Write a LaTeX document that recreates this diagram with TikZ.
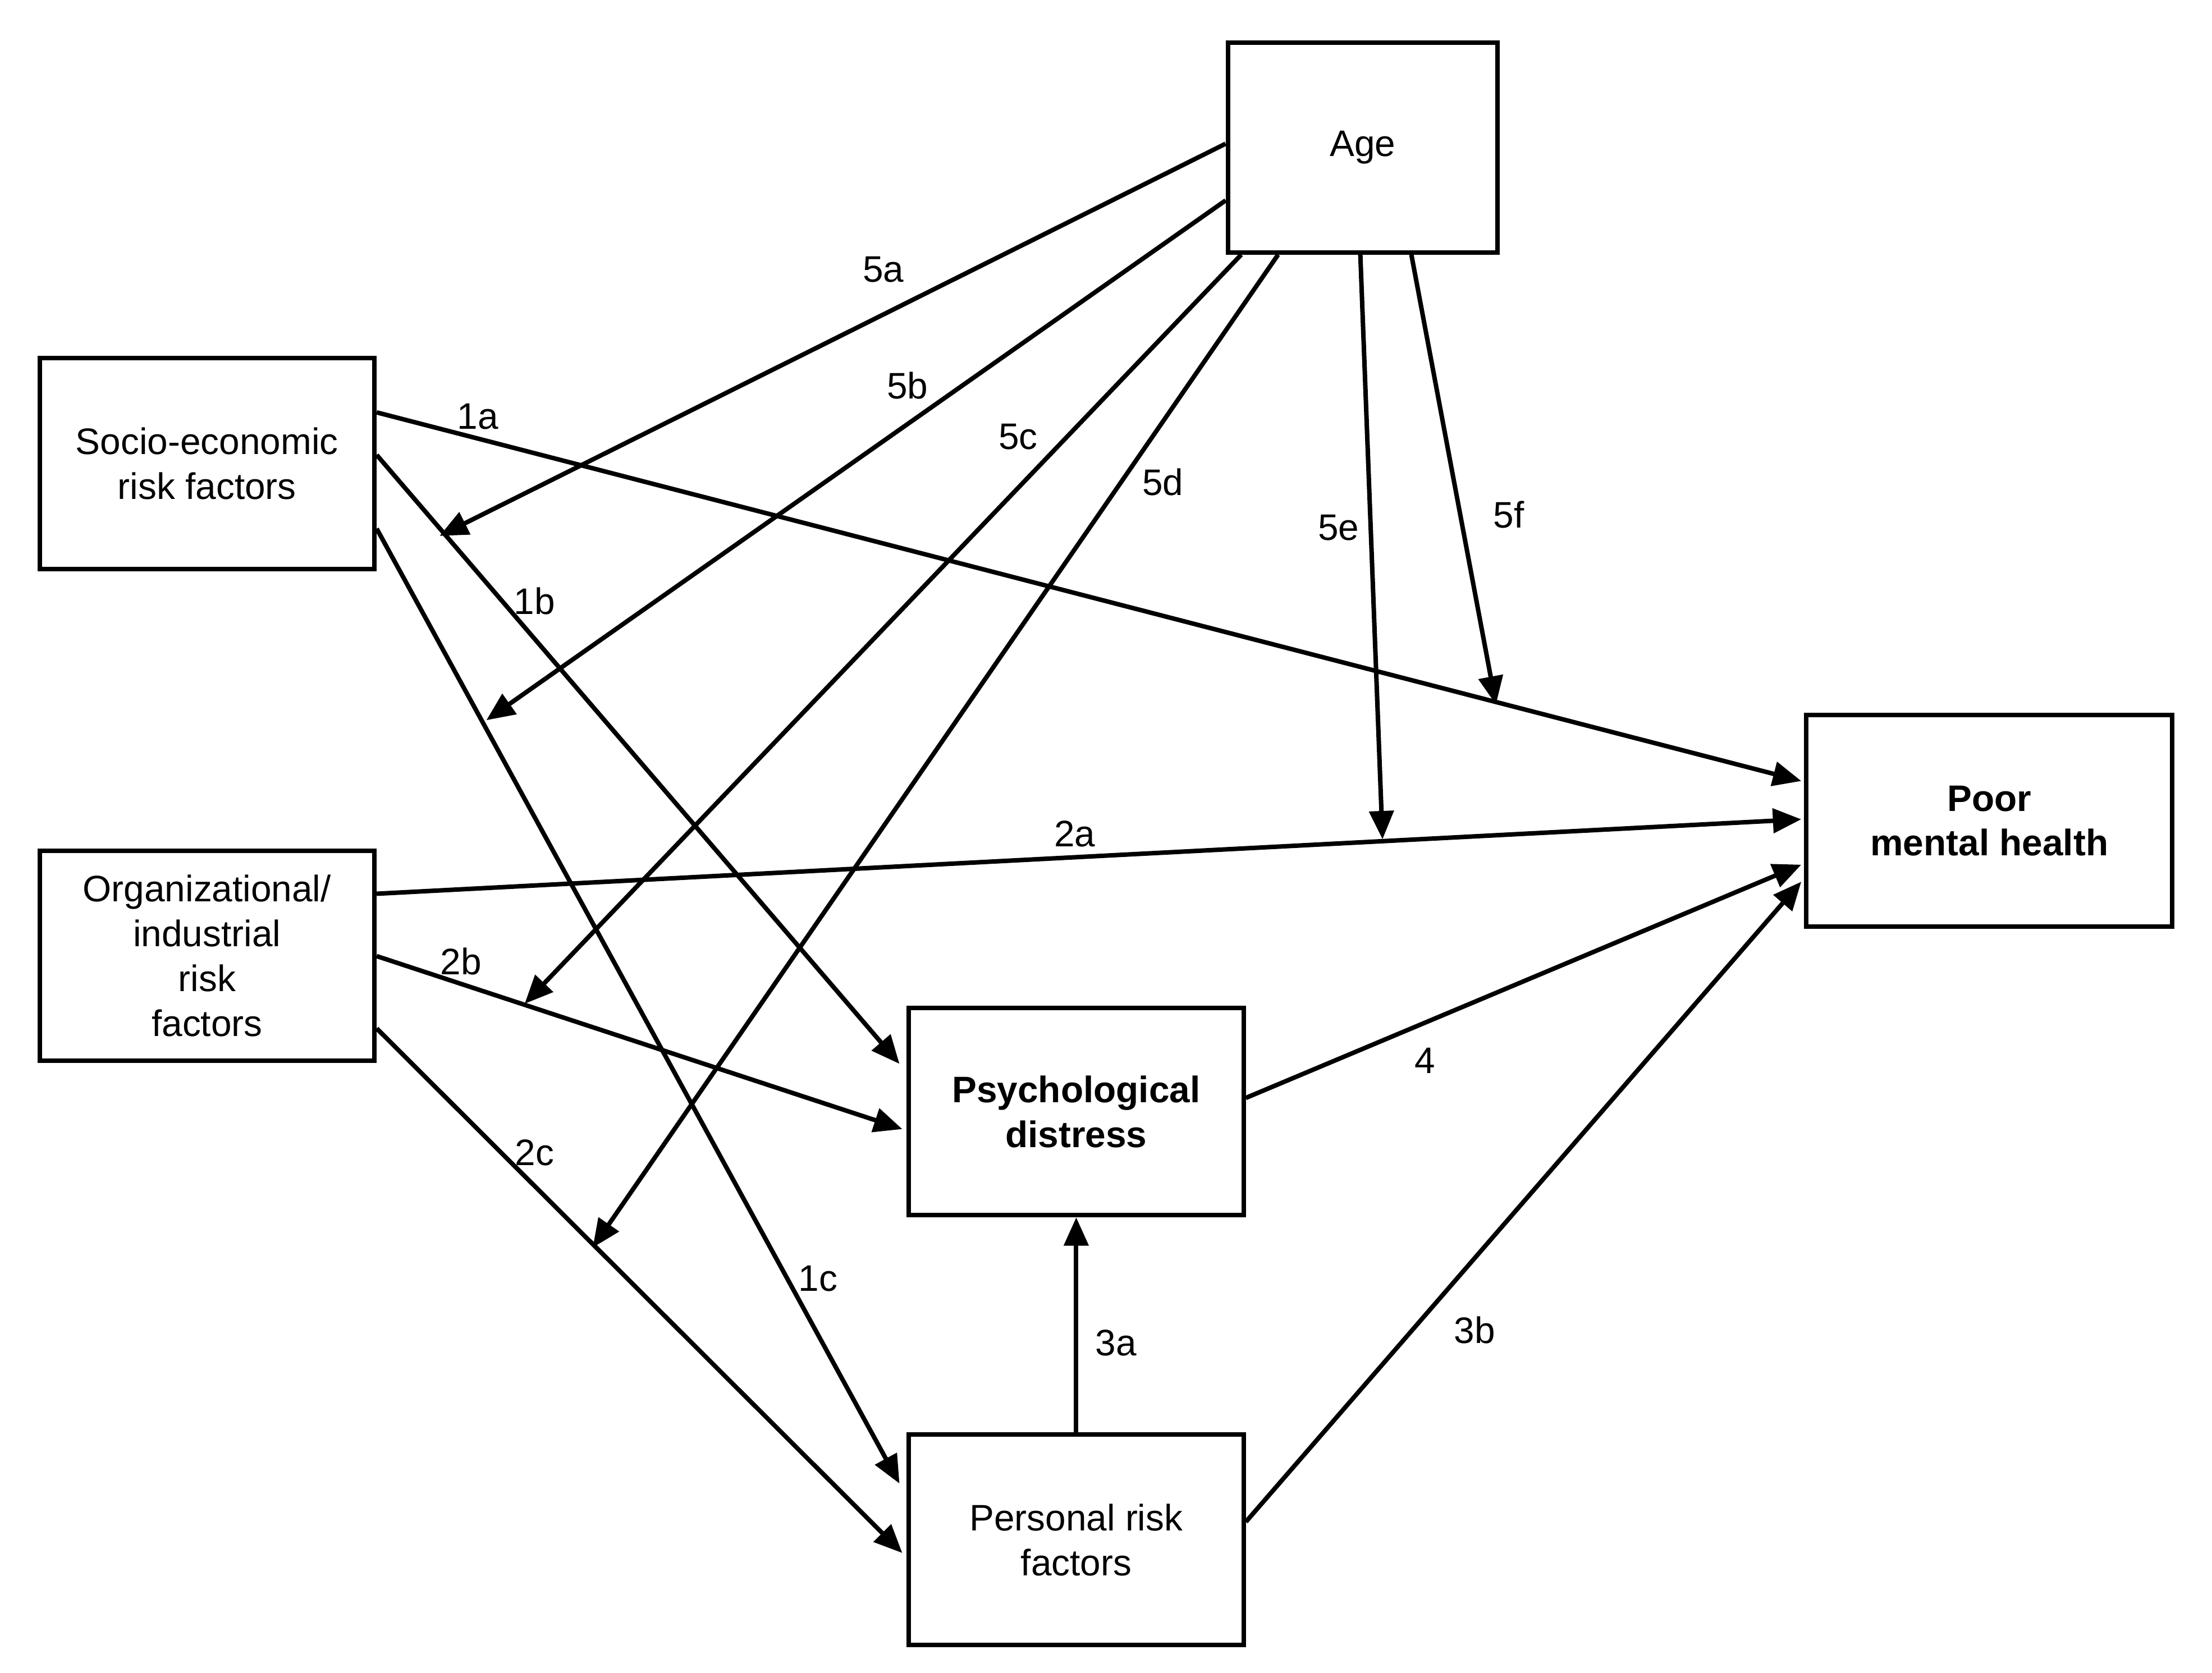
\documentclass[tikz,border=0pt]{standalone}
\usepackage{fontspec}
\setmainfont{Liberation Sans}
\usetikzlibrary{arrows.meta,calc}
\begin{document}
\begin{tikzpicture}[x=0.01cm,y=-0.01cm,
  box/.style={draw,line width=0.9pt,inner sep=0,align=center,font=\fontsize{7.4}{9}\selectfont},
  arr/.style={line width=0.9pt,-{Triangle[length=2mm,width=1.7mm]}},
  lab/.style={font=\fontsize{7.4}{9}\selectfont}]
\useasboundingbox (0,0) rectangle (1560,1180);
\node[box,minimum width=1.90cm,minimum height=1.48cm] (age) at (961,104) {Age};
\node[box,minimum width=2.36cm,minimum height=1.49cm] (se) at (146,327) {Socio-economic\\risk factors};
\node[box,minimum width=2.36cm,minimum height=1.48cm] (org) at (146,674) {Organizational/\\industrial\\risk\\factors};
\node[box,minimum width=2.36cm,minimum height=1.46cm,font=\fontsize{7.4}{9}\selectfont\bfseries] (psy) at (759,784) {Psychological\\distress};
\node[box,minimum width=2.36cm,minimum height=1.48cm] (per) at (759,1086) {Personal risk\\factors};
\node[box,minimum width=2.58cm,minimum height=1.49cm,font=\fontsize{7.4}{9}\selectfont\bfseries] (poor) at (1403,579) {Poor\\mental health};
\coordinate (e5a) at (310,378);
\coordinate (e5b) at (343,508);
\coordinate (e5c) at (370,708);
\coordinate (e5d) at (418,880);
\coordinate (e5e) at (975,592);
\coordinate (e5f) at (1055,497);
\draw[arr] ($(age.north west)+(0,73)$) -- (e5a);
\draw[arr] ($(age.north west)+(0,113)$) -- (e5b);
\draw[arr] ($(age.south west)+(11,0)$) -- (e5c);
\draw[arr] ($(age.south west)+(37,0)$) -- (e5d);
\draw[arr] ($(age.south west)+(95,0)$) -- (e5e);
\draw[arr] ($(age.south west)+(131,0)$) -- (e5f);
\draw[arr] ($(se.north east)+(0,40)$) -- ($(poor.north west)+(-2,48)$);
\draw[arr] ($(se.north east)+(0,70)$) -- ($(psy.north west)+(-5,41)$);
\draw[arr] ($(se.north east)+(0,122)$) -- ($(per.north west)+(-5,36)$);
\draw[arr] ($(org.north east)+(0,32)$) -- ($(poor.north west)+(-2,75)$);
\draw[arr] ($(org.north east)+(0,76)$) -- ($(psy.north west)+(-3,87)$);
\draw[arr] ($(org.north east)+(0,127)$) -- ($(per.north west)+(-3,85)$);
\draw[arr] (per.north) -- (psy.south);
\draw[arr] ($(per.north east)+(0,63)$) -- ($(poor.north west)+(-2,119)$);
\draw[arr] ($(psy.north east)+(0,65)$) -- ($(poor.north west)+(-2,107)$);
\node[lab] at (623,190) {5a};
\node[lab] at (640,272) {5b};
\node[lab] at (718,308) {5c};
\node[lab] at (820,340) {5d};
\node[lab] at (944,372) {5e};
\node[lab] at (1064,363) {5f};
\node[lab] at (337,294) {1a};
\node[lab] at (377,424) {1b};
\node[lab] at (577,902) {1c};
\node[lab] at (758,588) {2a};
\node[lab] at (325,678) {2b};
\node[lab] at (377,813) {2c};
\node[lab] at (787,947) {3a};
\node[lab] at (1040,938) {3b};
\node[lab] at (1005,748) {4};
\end{tikzpicture}
\end{document}
